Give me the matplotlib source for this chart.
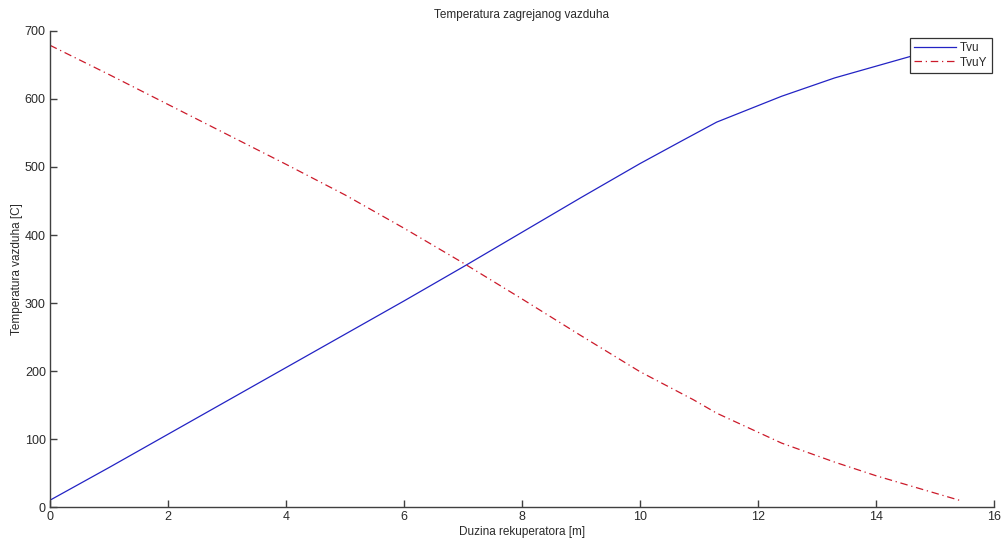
import matplotlib.pyplot as plt

plt.rcParams["font.family"] = ["Liberation Sans", "DejaVu Sans"]

# Values
duzina_tvu = [0, 1, 2, 3, 4, 5, 6, 7, 8, 9, 10, 10.7, 11.3, 12.4, 13.3, 14.6, 15.5]
tvu = [10, 58, 107, 156, 205, 254, 303, 353, 404, 455, 505, 538, 566, 604, 631, 663, 681]

duzina_tvuy = [0, 1, 2, 3, 4, 5, 6, 7, 8, 9, 10, 10.9, 11.3, 12.4, 13.3, 14.0, 15.45]
tvuy = [679, 636, 592, 548, 504, 459, 410, 359, 306, 252, 199, 158, 138, 94, 66, 46, 9]

x_ticks = [0, 2, 4, 6, 8, 10, 12, 14, 16]
y_ticks = [0, 100, 200, 300, 400, 500, 600, 700]

AXIS_COLOR = "#404040"
TEXT_COLOR = "#2a2a2a"

fig = plt.figure(figsize=(10.04, 5.40), dpi=100)
ax = fig.add_axes([0.0498, 0.0611, 0.9402, 0.8815])

ax.plot(duzina_tvu, tvu, color="#2323c4", linewidth=0.9, label="Tvu")
ax.plot(duzina_tvuy, tvuy, color="#cc1a2a", linewidth=0.9, linestyle="-.",
        dashes=(6, 3, 1, 3), label="TvuY")

ax.set_xlim(0, 16)
ax.set_ylim(0, 700)
ax.set_xticks(x_ticks)
ax.set_yticks(y_ticks)

for side in ("top", "right"):
    ax.spines[side].set_visible(False)
for side in ("left", "bottom"):
    ax.spines[side].set_color(AXIS_COLOR)
    ax.spines[side].set_linewidth(1.0)

ax.tick_params(direction="in", length=5, width=1.0, color=AXIS_COLOR,
               labelsize=9, labelcolor=TEXT_COLOR, pad=3)

ax.set_title("Temperatura zagrejanog vazduha", fontsize=8.5, color=TEXT_COLOR, pad=9)
ax.set_xlabel("Duzina rekuperatora [m]", fontsize=8.5, color=TEXT_COLOR, labelpad=2)
ax.set_ylabel("Temperatura vazduha [C]", fontsize=8.5, color=TEXT_COLOR, labelpad=1)

leg = ax.legend(loc="upper right", bbox_to_anchor=(1.0, 0.99), fontsize=8.5,
                fancybox=False, framealpha=1, edgecolor="#333333",
                handlelength=3.6, handletextpad=0.3, borderpad=0.35,
                labelspacing=0.2, borderaxespad=0.2)
leg.get_frame().set_linewidth(0.9)
for text in leg.get_texts():
    text.set_color(TEXT_COLOR)

fig.savefig("out.png", dpi=100)
